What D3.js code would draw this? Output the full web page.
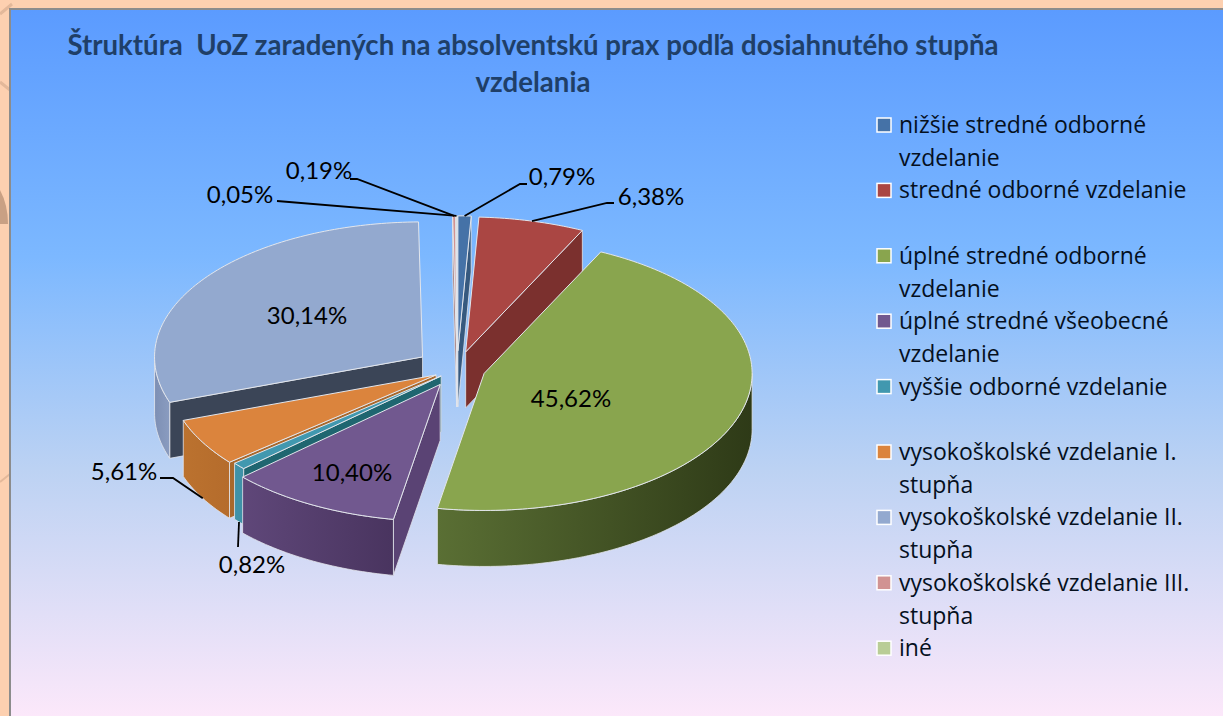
<!DOCTYPE html>
<html>
<head>
<meta charset="utf-8">
<script src="https://cdn.jsdelivr.net/npm/d3@7"></script>
<style>
  body { margin: 0; background: #fdd0b0; overflow: hidden; }
  svg { display: block; }
</style>
</head>
<body>
<div id="chart"></div>
<script>
// Data
const categories = [
  "nižšie stredné odborné vzdelanie",
  "stredné odborné vzdelanie",
  "úplné stredné odborné vzdelanie",
  "úplné stredné všeobecné vzdelanie",
  "vyššie odborné vzdelanie",
  "vysokoškolské vzdelanie I. stupňa",
  "vysokoškolské vzdelanie II. stupňa",
  "vysokoškolské vzdelanie III. stupňa",
  "iné"
];
const values = [0.79, 6.38, 45.62, 10.40, 0.82, 5.61, 30.14, 0.19, 0.05];
const titleLines = [
  "Štruktúra  UoZ zaradených na absolventskú prax podľa dosiahnutého stupňa",
  "vzdelania"
];

// Colours per slice
const topColors = ["#4572a7", "#aa4643", "#89a54e", "#71588f", "#4198af", "#db843d", "#93a9cf", "#d19392", "#b9cd96"];
const wallColors = ["#36597f", "#7b302e", "#55692e", "#5a4374", "#1f6670", "#a8682c", "#3b4557", "#9c6e6d", "#8b9a70"];
const rimColors = [
  ["#36597f", "#36597f"], ["#7b302e", "#7b302e"], ["#5a6f34", "#2e3a17"],
  ["#5f4779", "#49345f"], ["#3f92a8", "#3f92a8"], ["#bb722f", "#b56c2c"],
  ["#7d8fb4", "#8a9cc0"], ["#9c6e6d", "#9c6e6d"], ["#8b9a70", "#8b9a70"]
];

// How far each slice is pulled out of the pie (px along its middle angle)
const explode = [36, 35, 28.5, 35, 21, 24, 42, 36, 36];

const width = 1223, height = 716;
const cx = 457, cy = 369;
const rx = 268, ry = 135, tilt = ry / rx, depth = 56;

// Legend rows: which text goes on which row
const rowH = 32.7, legendTop = 125;
const legendRows = [
  { i: 0, row: 0, lines: ["nižšie stredné odborné", "vzdelanie"] },
  { i: 1, row: 2, lines: ["stredné odborné vzdelanie"] },
  { i: 2, row: 4, lines: ["úplné stredné odborné", "vzdelanie"] },
  { i: 3, row: 6, lines: ["úplné stredné všeobecné", "vzdelanie"] },
  { i: 4, row: 8, lines: ["vyššie odborné vzdelanie"] },
  { i: 5, row: 10, lines: ["vysokoškolské vzdelanie I.", "stupňa"] },
  { i: 6, row: 12, lines: ["vysokoškolské vzdelanie II.", "stupňa"] },
  { i: 7, row: 14, lines: ["vysokoškolské vzdelanie III.", "stupňa"] },
  { i: 8, row: 16, lines: ["iné"] }
];

// Data label placement
const labelPos = [
  { x: 562, y: 177 }, { x: 651, y: 197 }, { x: 571, y: 399 },
  { x: 352, y: 473 }, { x: 252, y: 565 }, { x: 124, y: 472 },
  { x: 307, y: 316 }, { x: 319, y: 171 }, { x: 240, y: 195 }
];
// Leader lines: elbow and end, only for labels outside the pie
const leaders = [
  [[520, 184], [527, 184]], [[607, 203], [614, 203]], null,
  null, [[238, 547]], [[173, 478], [160, 478]],
  null, [[357, 179], [350, 179]], [[277, 201]]
];

const fmt = v => v.toFixed(2).replace(".", ",") + "%";

const svg = d3.select("#chart").append("svg")
  .attr("width", width)
  .attr("height", height);
const defs = svg.append("defs");

const bg = defs.append("linearGradient").attr("id", "panel").attr("x1", 0).attr("y1", 0).attr("x2", 0).attr("y2", 1);
bg.append("stop").attr("offset", "0%").attr("stop-color", "#5b9bff");
bg.append("stop").attr("offset", "35%").attr("stop-color", "#7cb8ff");
bg.append("stop").attr("offset", "65%").attr("stop-color", "#bcd2f3");
bg.append("stop").attr("offset", "100%").attr("stop-color", "#fce8fa");

// Slide decoration behind the panel
const decor = svg.append("g").attr("fill", "none");
decor.append("path").attr("d", "M0,14 Q6,9 12,4").attr("stroke", "#e3b89a").attr("stroke-width", 3);
decor.append("path").attr("d", "M0,82 Q5,86 10,90").attr("stroke", "#e3b89a").attr("stroke-width", 3);
decor.append("path").attr("d", "M0,224 L8,224 Q8,205 0,190 Z").attr("fill", "#c9a084");
decor.append("path").attr("d", "M0,482 Q5,478 10,474").attr("stroke", "#e3b89a").attr("stroke-width", 2);

svg.append("rect")
  .attr("x", 10).attr("y", 9)
  .attr("width", width).attr("height", height - 8)
  .attr("fill", "url(#panel)")
  .attr("stroke", "#8c8c8c")
  .attr("stroke-width", 2);

// Title
svg.selectAll("text.title")
  .data(titleLines)
  .enter()
  .append("text")
  .attr("class", "title")
  .attr("x", 533)
  .attr("y", (d, i) => 55 + i * 37)
  .attr("text-anchor", "middle")
  .attr("font-family", "Lato, sans-serif")
  .attr("font-weight", 700)
  .attr("font-size", 27.6)
  .attr("fill", "#1f3f68")
  .style("white-space", "pre")
  .text(d => d);

// Pie angles, clockwise from twelve o'clock
const pie = d3.pie().sort(null).value(d => d);
const slices = pie(values).map((d, i) => {
  const mid = (d.startAngle + d.endAngle) / 2;
  return {
    i,
    start: d.startAngle,
    end: d.endAngle,
    mid,
    ox: cx + explode[i] * Math.sin(mid),
    oy: cy - explode[i] * Math.cos(mid) * tilt
  };
});

// Front of the pie sits a little closer to the camera
const rimPoint = (s, a) => {
  const c = Math.cos(a);
  return [s.ox + rx * Math.sin(a), s.oy - ry * c * (c < 0 ? 1.015 : 1)];
};

function arcPoints(s, a0, a1) {
  const n = Math.max(2, Math.ceil((a1 - a0) / 0.02));
  return d3.range(n + 1).map(k => rimPoint(s, a0 + (a1 - a0) * k / n));
}
const line = d3.line();

const pieGroup = svg.append("g");
const edge = "#e3e6ec";

// Back slices first, the thin ones at the top keep their order
const ordered = slices.slice().sort((a, b) =>
  d3.descending(Math.round(Math.cos(a.mid) * 100), Math.round(Math.cos(b.mid) * 100)) || d3.ascending(a.i, b.i));

ordered.forEach(s => {
  const g = pieGroup.append("g");
  const apex = [s.ox, s.oy];

  // Straight walls, only those turned towards the viewer
  const walls = [];
  if (Math.sin(s.start) < 0) walls.push(s.start);
  if (Math.sin(s.end) > 0) walls.push(s.end);
  walls.forEach(a => {
    const p = rimPoint(s, a);
    g.append("path")
      .attr("d", line([apex, p, [p[0], p[1] + depth], [apex[0], apex[1] + depth]]) + "Z")
      .attr("fill", wallColors[s.i])
      .attr("stroke", edge)
      .attr("stroke-width", 0.8);
  });

  // Outer wall, only the part on the front half
  const a0 = Math.max(s.start, Math.PI / 2);
  const a1 = Math.min(s.end, Math.PI * 1.5);
  if (a1 > a0) {
    const pts = arcPoints(s, a0, a1);
    const low = pts.map(p => [p[0], p[1] + depth]).reverse();
    const xs = d3.extent(pts, p => p[0]);
    const grad = defs.append("linearGradient")
      .attr("id", "rim" + s.i)
      .attr("gradientUnits", "userSpaceOnUse")
      .attr("x1", xs[0]).attr("x2", xs[1]).attr("y1", 0).attr("y2", 0);
    grad.append("stop").attr("offset", "0%").attr("stop-color", rimColors[s.i][0]);
    grad.append("stop").attr("offset", "100%").attr("stop-color", rimColors[s.i][1]);
    g.append("path")
      .attr("d", line(pts.concat(low)) + "Z")
      .attr("fill", `url(#rim${s.i})`)
      .attr("stroke", edge)
      .attr("stroke-width", 0.8);
  }

  // Top face
  g.append("path")
    .attr("d", line([apex].concat(arcPoints(s, s.start, s.end))) + "Z")
    .attr("fill", topColors[s.i])
    .attr("stroke", edge)
    .attr("stroke-width", 1);
});

// Leader lines start on the slice edge
const leaderGroup = svg.append("g");
slices.forEach(s => {
  if (!leaders[s.i]) return;
  let p = rimPoint(s, s.mid);
  if (Math.cos(s.mid) < 0) p = [p[0], p[1] + depth];
  leaderGroup.append("path")
    .attr("d", line([p].concat(leaders[s.i])))
    .attr("fill", "none")
    .attr("stroke", "#000")
    .attr("stroke-width", 1.8);
});

// Data labels
svg.selectAll("text.value")
  .data(values)
  .enter()
  .append("text")
  .attr("class", "value")
  .attr("x", (d, i) => labelPos[i].x)
  .attr("y", (d, i) => labelPos[i].y)
  .attr("dy", "0.35em")
  .attr("text-anchor", "middle")
  .attr("font-family", "Lato, sans-serif")
  .attr("font-size", 24)
  .attr("fill", "#000")
  .text(fmt);

// Legend
const legend = svg.append("g");
const rowY = d3.scaleLinear().domain([0, 16]).range([legendTop, legendTop + 16 * rowH]);

legendRows.forEach(item => {
  legend.append("rect")
    .attr("x", 877).attr("y", rowY(item.row) - 7)
    .attr("width", 14).attr("height", 14)
    .attr("fill", topColors[item.i])
    .attr("stroke", "#fff")
    .attr("stroke-width", 1.5);
  item.lines.forEach((t, k) => {
    legend.append("text")
      .attr("x", 899)
      .attr("y", rowY(item.row + k))
      .attr("dy", "0.35em")
      .attr("font-family", "'Open Sans', sans-serif")
      .attr("font-size", 23)
      .attr("fill", "#05101e")
      .text(t);
  });
});
</script>
</body>
</html>
